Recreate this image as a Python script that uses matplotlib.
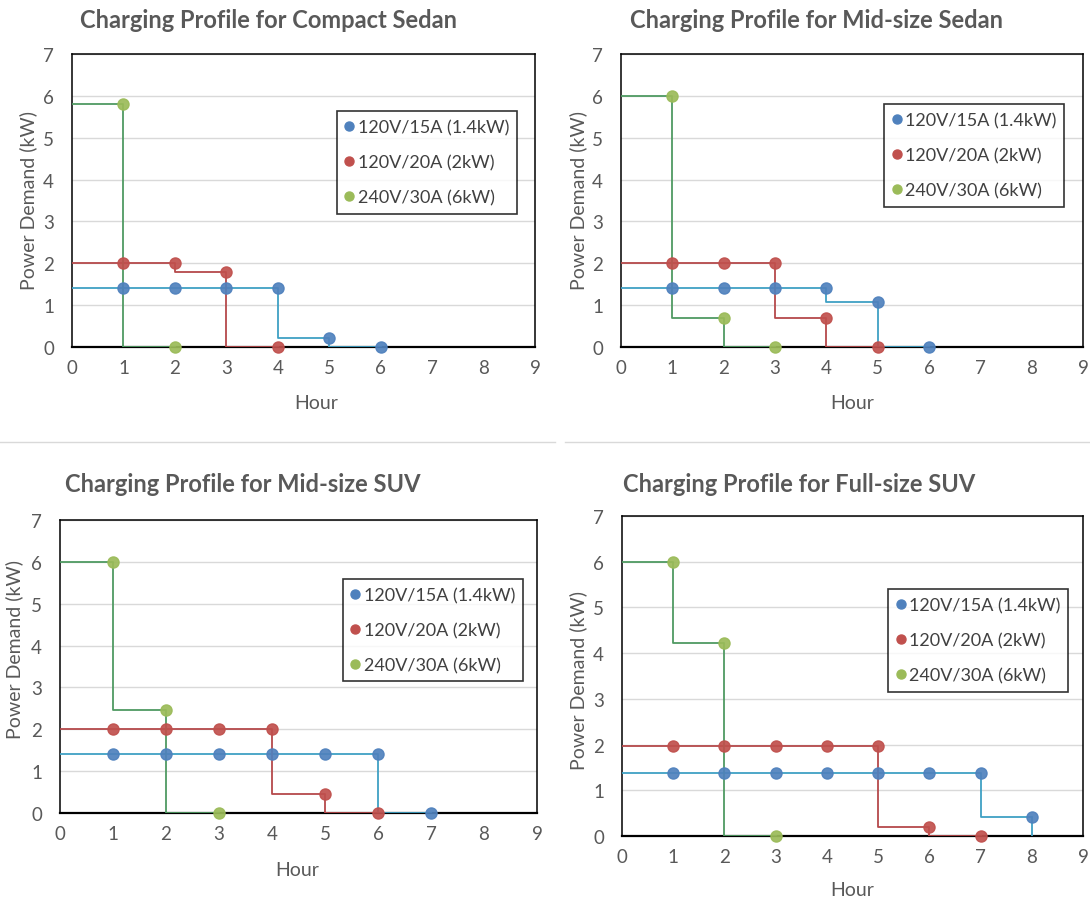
import matplotlib.pyplot as plt
from matplotlib.lines import Line2D

plt.rcParams['font.family'] = ['Lato', 'DejaVu Sans']

# legend labels for the three chargers
labels = ['120V/15A (1.4kW)', '120V/20A (2kW)', '240V/30A (6kW)']

titles = ['Charging Profile for Compact Sedan',
          'Charging Profile for Mid-size Sedan',
          'Charging Profile for Mid-size SUV',
          'Charging Profile for Full-size SUV']

# power demand (kW) at the end of hour 1, 2, 3 ...
compact_15a = [1.4, 1.4, 1.4, 1.4, 0.22, 0]
compact_20a = [2.0, 2.0, 1.8, 0]
compact_30a = [5.8, 0]

midsedan_15a = [1.4, 1.4, 1.4, 1.4, 1.07, 0]
midsedan_20a = [2.0, 2.0, 2.0, 0.7, 0]
midsedan_30a = [6.0, 0.7, 0]

midsuv_15a = [1.4, 1.4, 1.4, 1.4, 1.4, 1.4, 0]
midsuv_20a = [2.0, 2.0, 2.0, 2.0, 0.45, 0]
midsuv_30a = [6.0, 2.45, 0]

fullsuv_15a = [1.38, 1.38, 1.38, 1.38, 1.38, 1.38, 1.38, 0.42]
fullsuv_20a = [1.97, 1.97, 1.97, 1.97, 1.97, 0.2, 0]
fullsuv_30a = [6.0, 4.22, 0]

marker_colors = ['#4f81bd', '#c0504d', '#9bbb59']
line_colors = ['#3fa0c4', '#b5494b', '#4f9a62']

W, H = 1090, 904


def px_rect(x0, y0, x1, y1):
    # pixel box (top-left origin) -> figure fraction rect
    return [x0 / W, 1 - y1 / H, (x1 - x0) / W, (y1 - y0) / H]


def draw_panel(ax, series, legend_xy, xlab_xy, ylab_xy):
    for vals, mc, lc in zip(series, marker_colors, line_colors):
        hours = list(range(1, len(vals) + 1))
        ax.step([0] + hours, [vals[0]] + vals, where='pre', color=lc, lw=1.3, zorder=3)
        if vals[-1] > 0:
            ax.vlines(hours[-1], 0, vals[-1], color=lc, lw=1.3, zorder=3)
        ax.plot(hours, vals, 'o', color=mc, ms=8, alpha=0.92, zorder=4, clip_on=False)
    ax.set_xlim(0, 9)
    ax.set_ylim(0, 7)
    ax.set_xticks(range(0, 10))
    ax.set_yticks(range(0, 8))
    ax.tick_params(length=0, labelsize=13.5, labelcolor='#595959')
    ax.tick_params(axis='y', pad=13)
    ax.tick_params(axis='x', pad=9)
    ax.grid(axis='y', color='#d9d9d9', lw=1, zorder=0)
    ax.set_axisbelow(True)
    for s in ax.spines.values():
        s.set_color('black')
        s.set_linewidth(1.1)
    ax.spines['bottom'].set_linewidth(1.6)
    ax.set_xlabel('Hour', fontsize=14, color='#595959')
    ax.set_ylabel('Power Demand (kW)', fontsize=14, color='#595959')
    ax.xaxis.set_label_coords(*xlab_xy)
    ax.yaxis.set_label_coords(*ylab_xy)
    handles = [Line2D([], [], ls='none', marker='o', ms=6.5, color=c) for c in marker_colors]
    leg = ax.legend(handles, labels, loc='upper left', bbox_to_anchor=legend_xy,
                    borderaxespad=0, frameon=True, fancybox=False, fontsize=13,
                    labelcolor='#404040', handlelength=0.5, handletextpad=0.2,
                    labelspacing=1.05, borderpad=0.45)
    leg.get_frame().set_edgecolor('black')
    leg.get_frame().set_linewidth(1.2)


fig = plt.figure(figsize=(10.9, 9.04), dpi=100)

ax1 = fig.add_axes(px_rect(72, 55, 535, 348))
draw_panel(ax1, [compact_15a, compact_20a, compact_30a],
           (0.572, 0.805), (0.527, -0.16), (-0.075, 0.505))
ax2 = fig.add_axes(px_rect(621, 55, 1083, 348))
draw_panel(ax2, [midsedan_15a, midsedan_20a, midsedan_30a],
           (0.569, 0.829), (0.5, -0.16), (-0.073, 0.505))
ax3 = fig.add_axes(px_rect(60, 521, 537, 814))
draw_panel(ax3, [midsuv_15a, midsuv_20a, midsuv_30a],
           (0.593, 0.799), (0.497, -0.165), (-0.078, 0.56))
ax4 = fig.add_axes(px_rect(622, 517, 1083, 837))
draw_panel(ax4, [fullsuv_15a, fullsuv_20a, fullsuv_30a],
           (0.577, 0.772), (0.499, -0.142), (-0.075, 0.49))

title_pos = [(80, 20), (630, 20), (65, 485), (623, 485)]
for t, (x, y) in zip(titles, title_pos):
    fig.text(x / W, 1 - y / H, t, fontsize=17, fontweight='bold', color='#595959',
             ha='left', va='center')

# faint separator between the upper and lower charts
fig.add_artist(Line2D([0, 555 / W], [1 - 443 / H] * 2, color='#d9d9d9', lw=1))
fig.add_artist(Line2D([565 / W, 1], [1 - 443 / H] * 2, color='#d9d9d9', lw=1))

fig.savefig('out.png', dpi=100)
